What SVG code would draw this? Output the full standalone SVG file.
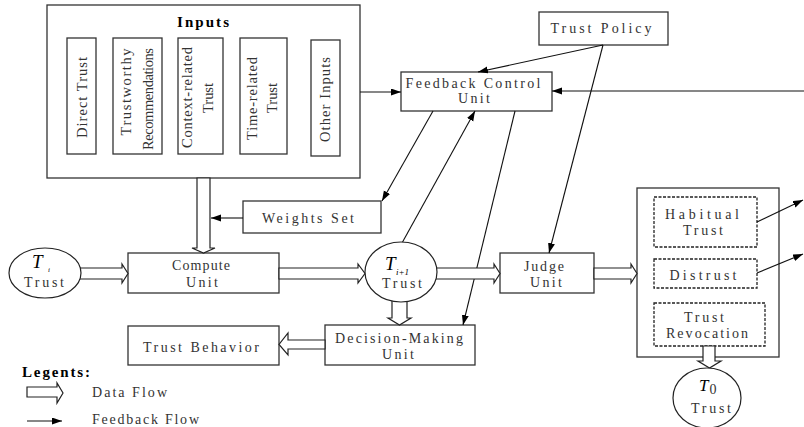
<svg xmlns="http://www.w3.org/2000/svg" width="804" height="427" viewBox="0 0 804 427">
  <style>
    .box { fill: #fff; stroke: #333; stroke-width: 1.3; }
    .dash { fill: #fff; stroke: #222; stroke-width: 1.3; stroke-dasharray: 3 1.5; }
    .ell { fill: #fff; stroke: #222; stroke-width: 1.2; }
    .fb { fill: none; stroke: #111; stroke-width: 1.1; }
    .hollow { fill: #fff; stroke: #222; stroke-width: 1.2; stroke-linejoin: miter; }
    .t { font-family: "Liberation Serif", "DejaVu Serif", serif; font-size: 14px; fill: #333; text-anchor: middle; }
    .tl { font-family: "Liberation Serif", "DejaVu Serif", serif; font-size: 14px; fill: #333; }
    .v { font-family: "Liberation Serif", "DejaVu Serif", serif; font-size: 14.5px; fill: #333; text-anchor: middle; }
    .b { font-family: "Liberation Serif", "DejaVu Serif", serif; font-size: 15px; font-weight: bold; fill: #000; }
    .it { font-family: "Liberation Serif", "DejaVu Serif", serif; font-style: italic; fill: #000; }
  </style>
  <defs>
    <marker id="arr" markerUnits="userSpaceOnUse" markerWidth="11" markerHeight="8" refX="10" refY="3.5" orient="auto">
      <path d="M0,0 L10,3.5 L0,7 z" fill="#000"/>
    </marker>
  </defs>

  <!-- Inputs -->
  <g id="inputs">
    <rect class="box" x="47" y="5" width="313" height="173"/>
    <text class="b" x="203" y="27" text-anchor="middle" textLength="52">Inputs</text>
    <rect class="box" x="67" y="38" width="29" height="116"/>
    <rect class="box" x="113" y="38" width="49" height="116"/>
    <rect class="box" x="178" y="38" width="45" height="116"/>
    <rect class="box" x="240" y="38" width="47" height="116"/>
    <rect class="box" x="311" y="40" width="29" height="116"/>
    <text class="v" transform="translate(87,97.5) rotate(-90)" textLength="81">Direct Trust</text>
    <text class="v" transform="translate(131,92) rotate(-90)" textLength="87">Trustworthy</text>
    <text class="v" transform="translate(153,99) rotate(-90)" textLength="102">Recommendations</text>
    <text class="v" transform="translate(192,97.5) rotate(-90)" textLength="101">Context-related</text>
    <text class="v" transform="translate(213,98) rotate(-90)" textLength="30">Trust</text>
    <text class="v" transform="translate(257,98.5) rotate(-90)" textLength="83">Time-related</text>
    <text class="v" transform="translate(277,98) rotate(-90)" textLength="30">Trust</text>
    <text class="v" transform="translate(330,99.5) rotate(-90)" textLength="85">Other Inputs</text>
  </g>

  <g id="trust-policy">
    <rect class="box" x="539" y="12" width="129" height="33"/>
    <text class="t" x="601" y="33" textLength="101">Trust Policy</text>
  </g>

  <g id="feedback-control">
    <rect class="box" x="401" y="72" width="151" height="39"/>
    <text class="t" x="473" y="88" textLength="135">Feedback Control</text>
    <text class="t" x="474" y="103" textLength="32">Unit</text>
  </g>

  <g id="weights-set">
    <rect class="box" x="243" y="201" width="138" height="32"/>
    <text class="t" x="308" y="223" textLength="92">Weights Set</text>
  </g>

  <g id="compute-unit">
    <rect class="box" x="128" y="253" width="151" height="40"/>
    <text class="t" x="201" y="270" textLength="58">Compute</text>
    <text class="t" x="202" y="287" textLength="32">Unit</text>
  </g>

  <g id="judge-unit">
    <rect class="box" x="500" y="253" width="94" height="40"/>
    <text class="t" x="544" y="271" textLength="40">Judge</text>
    <text class="t" x="546" y="287" textLength="32">Unit</text>
  </g>

  <g id="decision-making">
    <rect class="box" x="325" y="325" width="150" height="40"/>
    <text class="t" x="399" y="343" textLength="128">Decision-Making</text>
    <text class="t" x="398" y="359" textLength="32">Unit</text>
  </g>

  <g id="trust-behavior">
    <rect class="box" x="128" y="326" width="151" height="39"/>
    <text class="t" x="201" y="352" textLength="116">Trust Behavior</text>
  </g>

  <g id="outcomes">
    <rect class="box" x="637" y="188" width="142" height="169"/>
    <rect class="dash" x="654" y="197" width="103" height="50"/>
    <text class="t" x="702" y="219" textLength="74">Habitual</text>
    <text class="t" x="703" y="235" textLength="40">Trust</text>
    <rect class="dash" x="654" y="259" width="103" height="29"/>
    <text class="t" x="703" y="280" textLength="67">Distrust</text>
    <rect class="dash" x="654" y="303" width="111" height="43"/>
    <text class="t" x="704" y="322" textLength="40">Trust</text>
    <text class="t" x="707" y="338" textLength="82">Revocation</text>
  </g>

  <!-- connectors -->
  <g id="connectors">
    <line class="fb" x1="360" y1="92" x2="401" y2="92" marker-end="url(#arr)"/>
    <line class="fb" x1="804" y1="91" x2="552" y2="91" marker-end="url(#arr)"/>
    <line class="fb" x1="603" y1="45" x2="478" y2="72" marker-end="url(#arr)"/>
    <line class="fb" x1="603" y1="45" x2="549" y2="253" marker-end="url(#arr)"/>
    <line class="fb" x1="433" y1="111" x2="382" y2="201" marker-end="url(#arr)"/>
    <line class="fb" x1="402" y1="243" x2="475" y2="111" marker-end="url(#arr)"/>
    <line class="fb" x1="515" y1="111" x2="463" y2="325" marker-end="url(#arr)"/>
    <line class="fb" x1="243" y1="218" x2="211" y2="218" marker-end="url(#arr)"/>
    <line class="fb" x1="757" y1="222" x2="803" y2="200" marker-end="url(#arr)"/>
    <line class="fb" x1="757" y1="273" x2="803" y2="254" marker-end="url(#arr)"/>

    <!-- data flow arrows -->
    <polygon class="hollow" points="197,178 210,178 210,248 215,248 203.5,253 192,248 197,248"/>
    <polygon class="hollow" points="70,268 122,268 122,264 128,273.5 122,283 122,279 70,279"/>
    <polygon class="hollow" points="279,268 358,268 358,264 365,273.5 358,283 358,279 279,279"/>
    <polygon class="hollow" points="430,268 494,268 494,264 500,273.5 494,283 494,279 430,279"/>
    <polygon class="hollow" points="594,268 631,268 631,264 637,273.5 631,283 631,279 594,279"/>
    <polygon class="hollow" points="392,292 407,292 407,318 411,318 399.5,325 388,318 392,318"/>
    <polygon class="hollow" points="325,340 288,340 288,333 279,344.5 288,355 288,349 325,349"/>
    <polygon class="hollow" points="703,346 715,346 715,361 721,361 709.5,368 698,361 703,361"/>
  </g>

  <g id="trust-i">
    <ellipse class="ell" cx="45" cy="273" rx="36" ry="25"/>
    <text class="it" x="32" y="268" font-size="19">T</text>
    <text class="it" x="48" y="272" font-size="7" fill="#666">i</text>
    <text class="t" x="44" y="287" textLength="40">Trust</text>
  </g>

  <g id="trust-i1">
    <ellipse class="ell" cx="401" cy="272" rx="36" ry="30"/>
    <text class="it" x="385" y="270" font-size="19">T</text>
    <text class="it" x="396" y="275" font-size="9">i+1</text>
    <text class="t" x="402" y="288" textLength="40">Trust</text>
  </g>

  <g id="trust-0">
    <ellipse class="ell" cx="707" cy="398" rx="34" ry="30"/>
    <text class="it" x="699" y="391" font-size="17">T</text>
    <text class="t" x="713" y="394" font-size="10">0</text>
    <text class="t" x="711" y="413" textLength="40">Trust</text>
  </g>

  <!-- legend -->
  <g id="legend">
    <text class="b" x="22" y="377" textLength="68">Legents:</text>
    <polygon class="hollow" points="27,387 57,387 57,383 63,393 57,403 57,397 27,397"/>
    <text class="tl" x="92" y="397" textLength="75">Data Flow</text>
    <line class="fb" x1="27" y1="421" x2="62" y2="421" marker-end="url(#arr)"/>
    <text class="tl" x="92" y="424" textLength="107">Feedback Flow</text>
  </g>
</svg>
